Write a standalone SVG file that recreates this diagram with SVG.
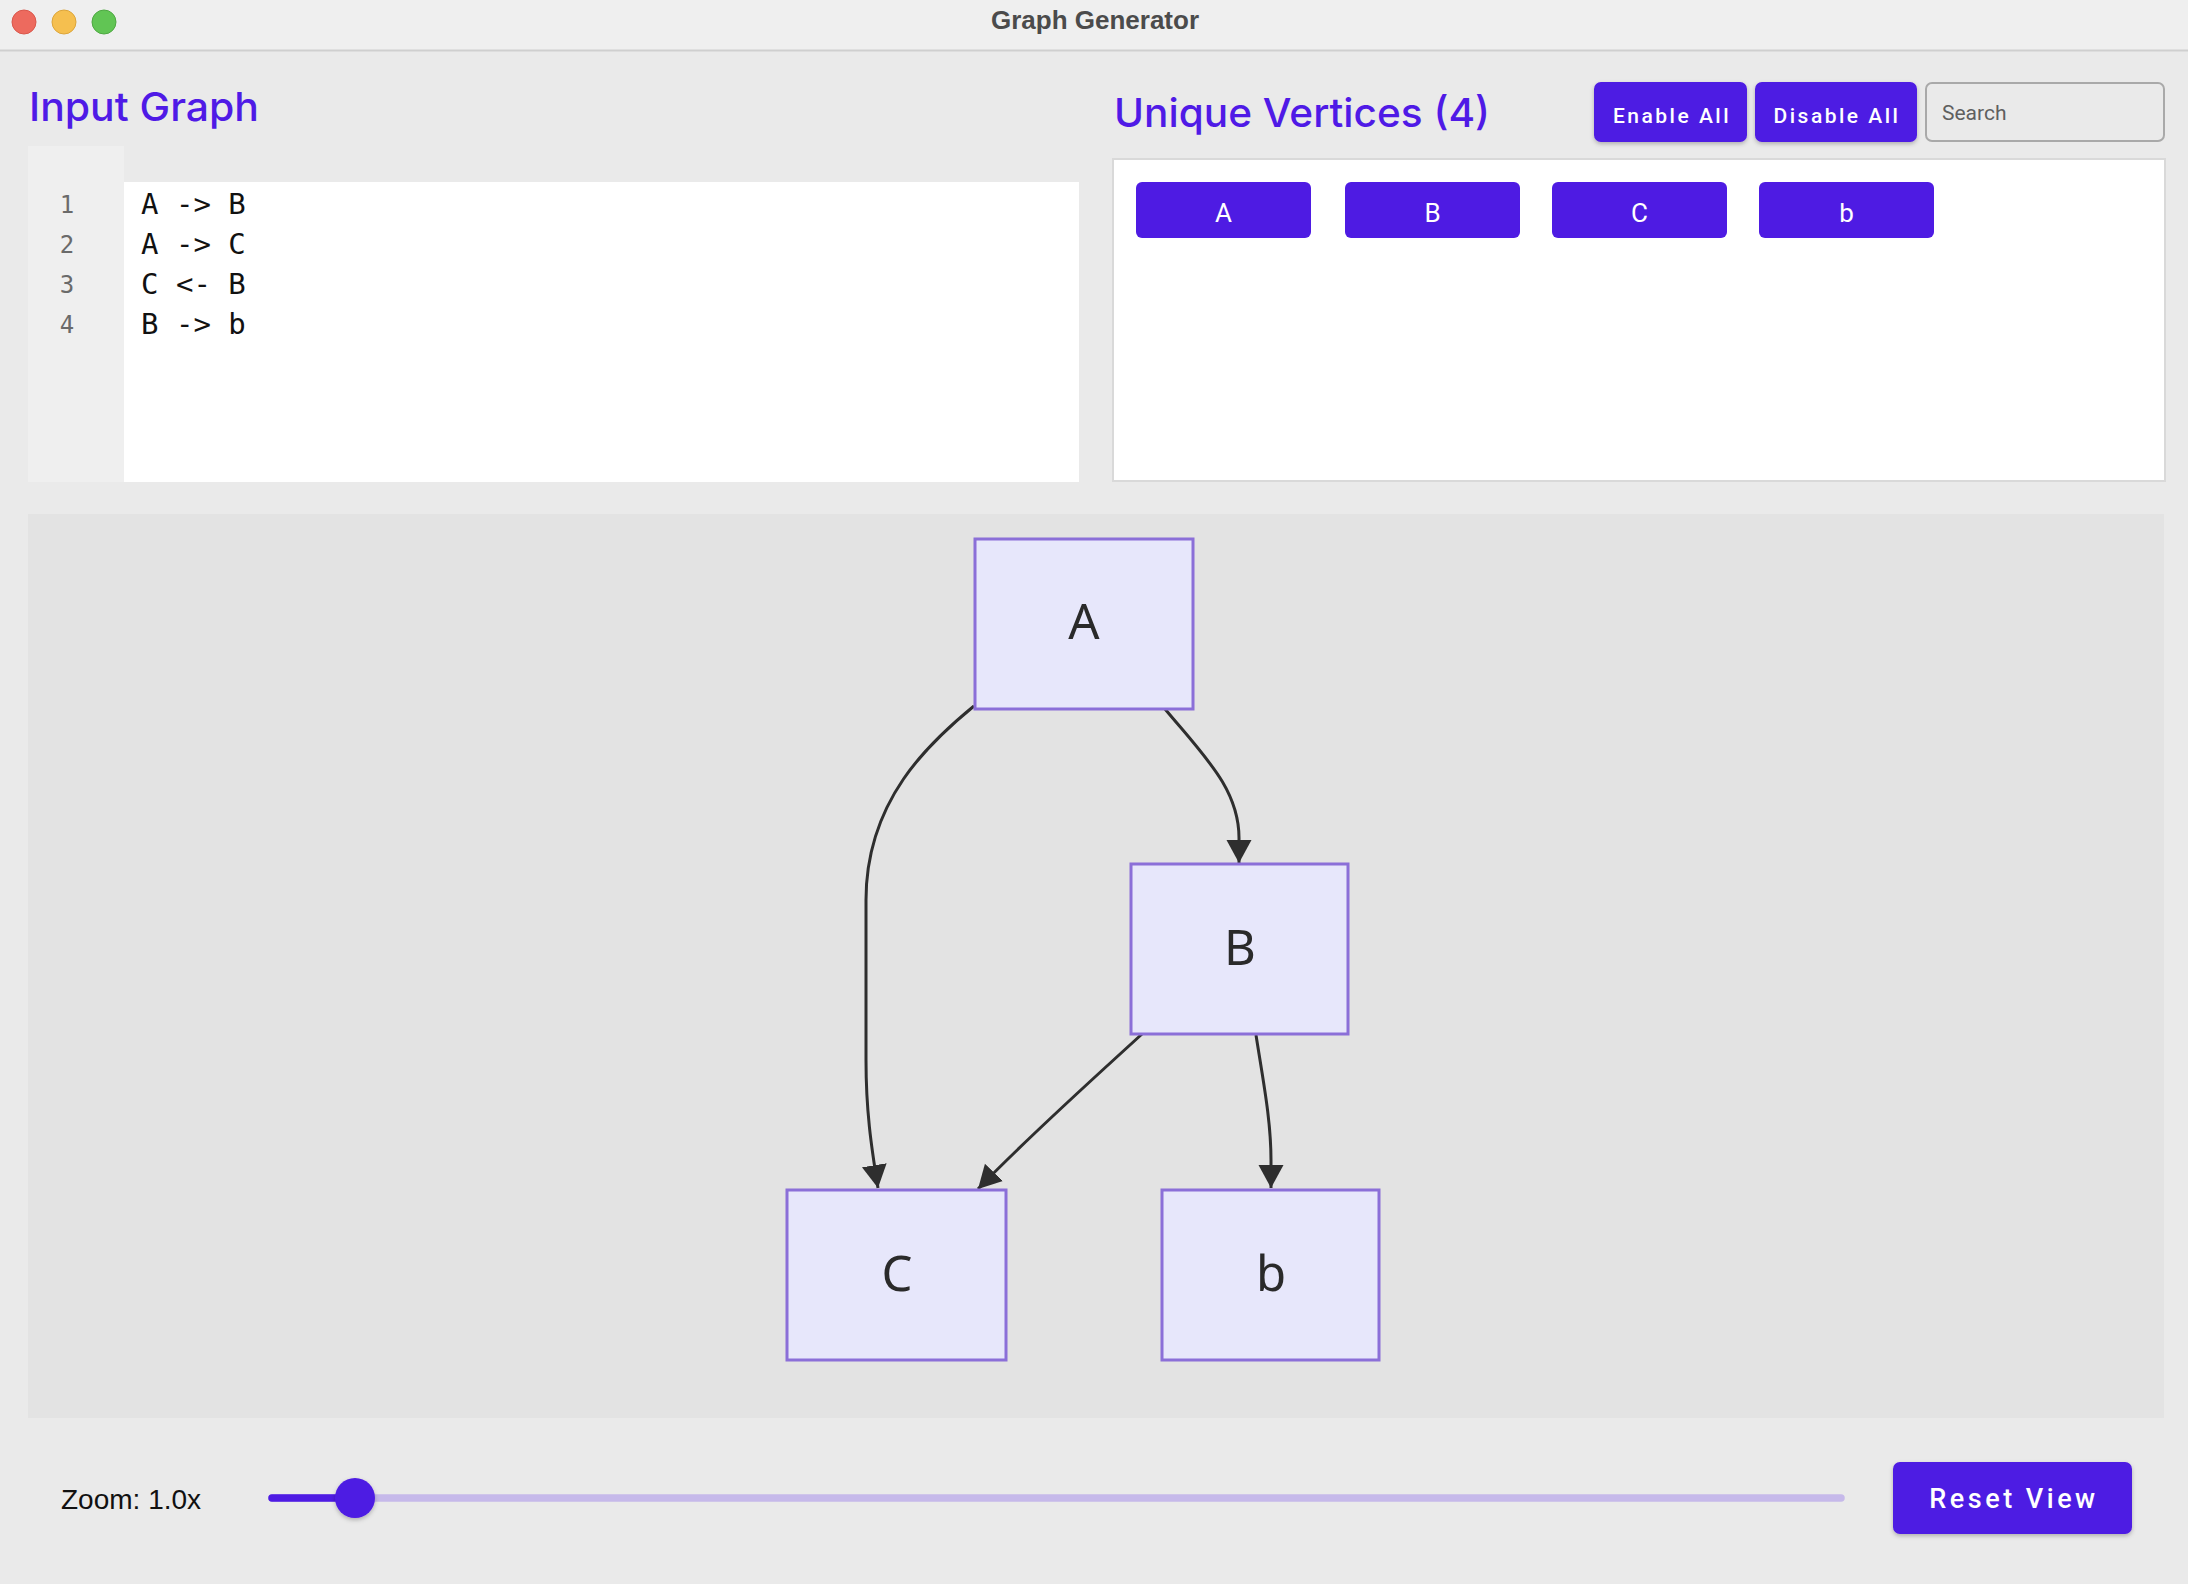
<svg xmlns="http://www.w3.org/2000/svg" width="2188" height="1584" viewBox="0 0 2188 1584">
<style>
.heading{font-family:Inter,"Liberation Sans",sans-serif;font-weight:500;font-size:40px;fill:#4f1ae6}
.btn{fill:#4e1be3}
.btntxt{font-family:Roboto,"Liberation Sans",sans-serif;font-weight:500;font-size:21px;fill:#ffffff;letter-spacing:2.5px;text-anchor:middle}
.vtx{font-family:Roboto,"Liberation Sans",sans-serif;font-size:26px;fill:#ffffff;text-anchor:middle}
.code{font-family:"DejaVu Sans Mono","Liberation Mono",monospace;font-size:29px;fill:#111111}
.ln{font-family:"DejaVu Sans Mono","Liberation Mono",monospace;font-size:24px;fill:#6a6a6a;text-anchor:middle}
.node rect{fill:#e7e7fb;stroke:#8b6fd8;stroke-width:3}
.node text{font-family:"Noto Sans","Liberation Sans",sans-serif;font-size:49px;fill:#2a2a2a;text-anchor:middle}
.edge{fill:none;stroke:#2e2e2e;stroke-width:3}
</style>
<defs>
<marker id="arrow" markerUnits="userSpaceOnUse" markerWidth="24" markerHeight="26" refX="23" refY="12.5" orient="auto">
<path d="M0,0 L23,12.5 L0,25 Z" fill="#2e2e2e"/>
</marker>
<filter id="shadow" x="-10%" y="-20%" width="120%" height="150%">
<feDropShadow dx="0" dy="2" stdDeviation="2" flood-color="#000000" flood-opacity="0.25"/>
</filter>
</defs>

<!-- window background -->
<rect x="0" y="0" width="2188" height="1584" fill="#eaeaea"/>
<rect x="0" y="0" width="2188" height="50" fill="#efefef"/>
<line x1="0" y1="50.5" x2="2188" y2="50.5" stroke="#cfcfcf" stroke-width="2"/>
<circle cx="24" cy="22" r="12" fill="#ed6a5e" stroke="#d9574b" stroke-width="1"/>
<circle cx="64" cy="22" r="12" fill="#f5bf4f" stroke="#dca53a" stroke-width="1"/>
<circle cx="104" cy="22" r="12" fill="#61c554" stroke="#4ea842" stroke-width="1"/>
<text x="1095" y="29" font-family="'Liberation Sans',Arial,sans-serif" font-weight="bold" font-size="26" fill="#4b4b4b" text-anchor="middle">Graph Generator</text>

<!-- Input Graph panel -->
<g id="input-graph">
<text class="heading" x="29" y="121" textLength="230" lengthAdjust="spacingAndGlyphs">Input Graph</text>
<rect x="28" y="146" width="96" height="336" fill="#efefef"/>
<rect x="124" y="182" width="955" height="300" fill="#ffffff"/>
<text class="ln" x="67" y="213">1</text>
<text class="ln" x="67" y="253">2</text>
<text class="ln" x="67" y="293">3</text>
<text class="ln" x="67" y="333">4</text>
<text class="code" x="141" y="214" xml:space="preserve">A -&gt; B</text>
<text class="code" x="141" y="254" xml:space="preserve">A -&gt; C</text>
<text class="code" x="141" y="294" xml:space="preserve">C &lt;- B</text>
<text class="code" x="141" y="334" xml:space="preserve">B -&gt; b</text>
</g>

<!-- Unique Vertices panel -->
<g id="unique-vertices">
<text class="heading" x="1114" y="127" textLength="376" lengthAdjust="spacingAndGlyphs">Unique Vertices (4)</text>
<g id="enable-all">
<rect class="btn" x="1594" y="82" width="153" height="60" rx="7" filter="url(#shadow)"/>
<text class="btntxt" x="1672" y="123">Enable All</text>
</g>
<g id="disable-all">
<rect class="btn" x="1755" y="82" width="162" height="60" rx="7" filter="url(#shadow)"/>
<text class="btntxt" x="1837" y="123">Disable All</text>
</g>
<g id="search">
<rect x="1926" y="83" width="238" height="58" rx="6" fill="#eaeaea" stroke="#a9a9a9" stroke-width="2"/>
<text x="1942" y="120" font-family="Roboto,'Liberation Sans',sans-serif" font-size="21" fill="#5f5f5f">Search</text>
</g>
<rect x="1113" y="159" width="1052" height="322" fill="#ffffff" stroke="#d9d9d9" stroke-width="2"/>
<g id="vbtn-A"><rect class="btn" x="1136" y="182" width="175" height="56" rx="6"/><text class="vtx" x="1223.5" y="222">A</text></g>
<g id="vbtn-B"><rect class="btn" x="1345" y="182" width="175" height="56" rx="6"/><text class="vtx" x="1432.5" y="222">B</text></g>
<g id="vbtn-C"><rect class="btn" x="1552" y="182" width="175" height="56" rx="6"/><text class="vtx" x="1639.5" y="222">C</text></g>
<g id="vbtn-b"><rect class="btn" x="1759" y="182" width="175" height="56" rx="6"/><text class="vtx" x="1846.5" y="222">b</text></g>
</g>

<!-- Graph canvas -->
<rect x="28" y="514" width="2136" height="904" fill="#e3e3e3"/>

<g id="connectors">
<path id="edge-A-B" class="edge" d="M1165,709 C1205,757 1240,790 1239,840 L1239,863" marker-end="url(#arrow)"/>
<path id="edge-A-C" class="edge" d="M974,706 C930,742 866,800 866,900 L866,1060 C866,1110 871,1145 878,1188" marker-end="url(#arrow)"/>
<path id="edge-B-C" class="edge" d="M1142,1034 C1105,1068 1030,1135 978,1189" marker-end="url(#arrow)"/>
<path id="edge-B-b" class="edge" d="M1256,1035 C1263,1080 1271,1120 1271,1160 L1271,1188" marker-end="url(#arrow)"/>
</g>

<g id="node-A" class="node"><rect x="975" y="539" width="218" height="170"/><text x="1084" y="639">A</text></g>
<g id="node-B" class="node"><rect x="1131" y="864" width="217" height="170"/><text x="1240" y="965">B</text></g>
<g id="node-C" class="node"><rect x="787" y="1190" width="219" height="170"/><text x="897" y="1291">C</text></g>
<g id="node-b" class="node"><rect x="1162" y="1190" width="217" height="170"/><text x="1271" y="1291">b</text></g>

<!-- bottom controls -->
<g id="zoom-control">
<text x="61" y="1509" font-family="'Liberation Sans',Arial,sans-serif" font-size="28" fill="#111111">Zoom: 1.0x</text>
<line x1="272" y1="1498" x2="1841" y2="1498" stroke="#c6b9ea" stroke-width="7.5" stroke-linecap="round"/>
<line x1="272" y1="1498" x2="355" y2="1498" stroke="#4e1be3" stroke-width="7.5" stroke-linecap="round"/>
<circle cx="355" cy="1498" r="20" fill="#4e1be3" filter="url(#shadow)"/>
</g>
<g id="reset-view">
<rect class="btn" x="1893" y="1462" width="239" height="72" rx="7" filter="url(#shadow)"/>
<text x="2014" y="1508" font-family="Roboto,'Liberation Sans',sans-serif" font-weight="500" font-size="27" fill="#ffffff" letter-spacing="3.5" text-anchor="middle">Reset View</text>
</g>
</svg>
